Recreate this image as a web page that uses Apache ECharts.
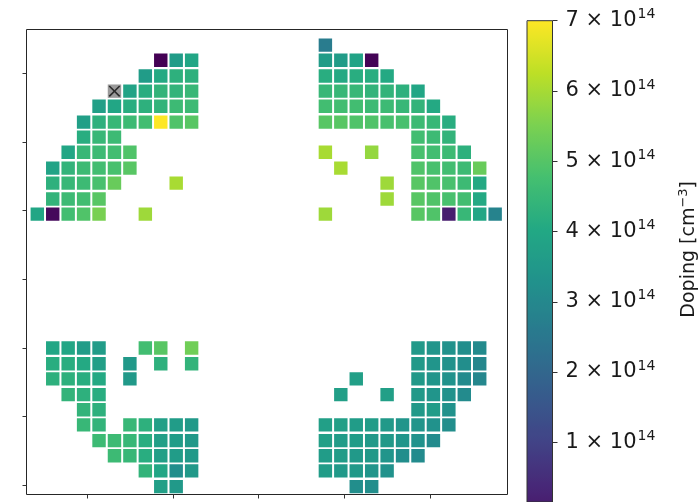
<!DOCTYPE html>
<html>
<head>
<meta charset="utf-8">
<title>Wafer doping map</title>
<script src="https://cdn.jsdelivr.net/npm/echarts@6/dist/echarts.min.js"></script>
<style>
  html, body { margin: 0; padding: 0; background: #fff; }
  #chart { width: 700px; height: 502px; }
</style>
</head>
<body>
<div id="chart"></div>
<script>
const _ = null;

// Die centre positions on the wafer (mm)
const leftColumnsX  = [-25.8, -24.0, -22.2, -20.4, -18.6, -16.8, -15.0, -13.2, -11.4, -9.6, -7.8];
const rightColumnsX = [7.8, 9.6, 11.4, 13.2, 15.0, 16.8, 18.6, 20.4, 22.2, 24.0, 25.8, 27.6];
const upperRowsY = [34.1, 31.9, 29.6, 27.4, 25.2, 22.9, 20.7, 18.5, 16.2, 14.0, 11.7, 9.5];
const lowerRowsY = [-10.0, -12.3, -14.5, -16.8, -19.0, -21.2, -23.5, -25.7, -27.9, -30.2];
const diePitch = [1.8, 2.238];

// Doping per die in units of 1e14 cm^-3 (null: no die)
const upperLeft = [
  [_, _, _, _, _, _, _, _, _, _, _],
  [_, _, _, _, _, _, _, _, 0.15, 3.9, 4.2],
  [_, _, _, _, _, _, _, 3.9, 4.3, 4.5, 4.5],
  [_, _, _, _, _, _, 4.1, 4.4, 4.6, 4.6, 4.7],
  [_, _, _, _, 4.0, 4.2, 4.4, 4.5, 4.6, 4.8, 4.8],
  [_, _, _, 4.0, 4.5, 4.7, 4.8, 4.9, 7.0, 5.1, 5.2],
  [_, _, _, 4.4, 4.7, 4.8, _, _, _, _, _],
  [_, _, 4.2, 4.7, 4.8, 4.9, 5.1, _, _, _, _],
  [_, 4.1, 4.6, 4.8, 4.9, 5.0, 5.2, _, _, _, _],
  [_, 4.5, 4.7, 4.8, 5.0, 5.4, _, _, _, 6.1, _],
  [_, 4.6, 4.8, 4.9, 5.2, _, _, _, _, _, _],
  [4.2, 0.3, 4.9, 5.1, 5.6, _, _, 6.0, _, _, _]
];
const upperRight = [
  [3.0, _, _, _, _, _, _, _, _, _, _, _],
  [3.9, 3.9, 4.1, 0.2, _, _, _, _, _, _, _, _],
  [4.4, 4.3, 4.4, 4.4, 4.3, _, _, _, _, _, _, _],
  [4.7, 4.7, 4.7, 4.6, 4.6, 4.5, 4.2, _, _, _, _, _],
  [4.9, 4.9, 4.9, 4.8, 4.8, 4.7, 4.6, 4.3, _, _, _, _],
  [5.2, 5.2, 5.1, 5.1, 5.0, 5.0, 4.8, 4.7, 4.4, _, _, _],
  [_, _, _, _, _, _, 4.9, 4.8, 4.6, _, _, _],
  [6.1, _, _, 5.9, _, _, 5.0, 4.9, 4.8, 4.5, _, _],
  [_, 6.1, _, _, _, _, 5.1, 5.0, 4.9, 4.8, 5.4, _],
  [_, _, _, _, 6.0, _, 5.2, 5.1, 5.0, 4.8, 4.3, _],
  [_, _, _, _, 6.0, _, 5.2, 5.1, 5.0, 4.9, 4.3, _],
  [6.0, _, _, _, _, _, 5.2, 5.1, 0.7, 4.7, 4.2, 3.2]
];
const lowerLeft = [
  [_, 4.2, 4.2, 3.9, 3.9, _, _, 4.9, 5.2, _, 5.5],
  [_, 4.4, 4.4, 4.3, 4.0, _, 3.8, _, 4.5, _, 4.6],
  [_, 4.5, 4.5, 4.4, 4.3, _, 3.8, _, _, _, _],
  [_, _, 4.6, 4.5, 4.4, _, _, _, _, _, _],
  [_, _, _, 4.6, 4.5, _, _, _, _, _, _],
  [_, _, _, 4.7, 4.6, _, 4.7, 4.5, 4.0, 3.9, 3.8],
  [_, _, _, _, 4.8, 4.8, 4.7, 4.4, 4.0, 3.9, 3.8],
  [_, _, _, _, _, 4.8, 4.7, 4.4, 4.0, 3.9, 3.8],
  [_, _, _, _, _, _, _, 4.6, 4.2, 3.5, 3.8],
  [_, _, _, _, _, _, _, _, 4.0, 3.8, _]
];
const lowerRight = [
  [_, _, _, _, _, _, 3.8, 3.7, 3.6, 3.5, 3.4, _],
  [_, _, _, _, _, _, 3.8, 3.7, 3.6, 3.5, 3.3, _],
  [_, _, 4.0, _, _, _, 3.8, 3.7, 3.6, 3.4, 3.3, _],
  [_, 4.0, _, _, 4.0, _, 3.8, 3.7, 3.6, 3.4, _, _],
  [_, _, _, _, _, _, 3.8, 3.9, 3.6, _, _, _],
  [4.0, 4.0, 3.9, 3.9, 3.8, 3.7, 3.7, 3.6, 3.5, _, _, _],
  [4.0, 3.9, 3.9, 3.8, 3.8, 3.7, 3.6, 3.4, _, _, _, _],
  [3.9, 3.9, 3.8, 3.8, 3.7, 3.5, 3.4, _, _, _, _, _],
  [3.9, 3.8, 3.8, 3.7, 3.6, _, _, _, _, _, _, _],
  [_, _, 3.5, 3.5, _, _, _, _, _, _, _, _]
];

// Dies excluded from the measurement: [column, row] in the upper-left block
const excludedUpperLeft = [[5, 3]];

// Axis ticks and colour scale
const xTicks = [-20, -10, 0, 10, 20];
const yTicks = [-30, -20, -10, 0, 10, 20, 30];
const dopingTicks = [1e14, 2e14, 3e14, 4e14, 5e14, 6e14, 7e14];
const dopingMin = 0.15e14, dopingMax = 7e14;
const viridis = ['#440154', '#482475', '#414487', '#355f8d', '#2a788e', '#21918c',
                 '#22a884', '#44bf70', '#7ad151', '#bddf26', '#fde725'];

function blockCells(matrix, xs, ys) {
  const out = [];
  matrix.forEach((row, r) => row.forEach((v, c) => {
    if (v !== null) out.push([xs[c], ys[r], v * 1e14]);
  }));
  return out;
}

const dies = [].concat(
  blockCells(upperLeft, leftColumnsX, upperRowsY),
  blockCells(upperRight, rightColumnsX, upperRowsY),
  blockCells(lowerLeft, leftColumnsX, lowerRowsY),
  blockCells(lowerRight, rightColumnsX, lowerRowsY)
);
const excluded = excludedUpperLeft.map(([c, r]) => [leftColumnsX[c], upperRowsY[r]]);

function dieRect(api) {
  const p = api.coord([api.value(0), api.value(1)]);
  const s = api.size(diePitch);
  const w = s[0] - 2, h = s[1] - 2;
  return { x: p[0] - w / 2, y: p[1] - h / 2, width: w, height: h };
}

const FONT = 'DejaVu Sans';
const chart = echarts.init(document.getElementById('chart'), null, { renderer: 'canvas' });

chart.setOption({
  backgroundColor: '#fff',
  animation: false,
  grid: [
    { left: 26.5, top: 29.5, width: 481, height: 465, show: true,
      borderColor: '#262626', borderWidth: 1, backgroundColor: '#fff' },
    { left: 527, top: 20.7, width: 26, height: 524.4, show: true,
      borderColor: '#333', borderWidth: 1, backgroundColor: 'transparent', z: 10 }
  ],
  xAxis: [
    { type: 'value', gridIndex: 0, min: -27.06, max: 29.04, position: 'bottom',
      axisLine: { show: false, onZero: false }, splitLine: { show: false },
      axisTick: { show: true, length: 4, customValues: xTicks, lineStyle: { color: '#333' } },
      axisLabel: { show: false } },
    { type: 'value', gridIndex: 1, show: false }
  ],
  yAxis: [
    { type: 'value', gridIndex: 0, min: -31.34, max: 36.38, position: 'left',
      axisLine: { show: false, onZero: false }, splitLine: { show: false },
      axisTick: { show: true, length: 4, customValues: yTicks, lineStyle: { color: '#333' } },
      axisLabel: { show: false } },
    { type: 'value', gridIndex: 1, min: dopingMin, max: dopingMax, position: 'right',
      axisLine: { show: false, onZero: false }, splitLine: { show: false },
      axisTick: { show: true, length: 5, customValues: dopingTicks, lineStyle: { color: '#333' } },
      axisLabel: {
        show: true, customValues: dopingTicks, margin: 13,
        formatter: v => '{b|' + Math.round(v / 1e14) + ' × 10}{s|14}',
        rich: {
          b: { fontFamily: FONT, fontSize: 21, color: '#1a1a1a' },
          s: { fontFamily: FONT, fontSize: 14, color: '#1a1a1a', padding: [0, 0, 12, 1] }
        }
      },
      name: 'Doping [cm{s|−3}]',
      nameLocation: 'middle', nameRotate: 90, nameGap: 125,
      nameTextStyle: {
        fontFamily: FONT, fontSize: 19, color: '#1a1a1a', padding: [0, 0, 0, 24],
        rich: { s: { fontFamily: FONT, fontSize: 13, color: '#1a1a1a', padding: [0, 0, 11, 0] } }
      }
    }
  ],
  visualMap: {
    type: 'continuous', seriesIndex: 0, dimension: 2,
    min: dopingMin, max: dopingMax, calculable: false, text: null,
    orient: 'vertical', left: 527, top: 20.7, itemWidth: 26, itemHeight: 524.4,
    padding: 0, inRange: { color: viridis }, hoverLink: false
  },
  series: [
    {
      type: 'custom', name: 'Doping', xAxisIndex: 0, yAxisIndex: 0,
      data: dies, clip: true,
      renderItem: (params, api) => ({
        type: 'rect', shape: dieRect(api),
        style: { fill: api.visual('color') }
      })
    },
    {
      type: 'custom', name: 'Excluded', xAxisIndex: 0, yAxisIndex: 0,
      data: excluded,
      renderItem: (params, api) => {
        const r = dieRect(api);
        const i = 1.5;
        return {
          type: 'group',
          children: [
            { type: 'rect', shape: r, style: { fill: '#9a9a9a' } },
            { type: 'line', shape: { x1: r.x + i, y1: r.y + i, x2: r.x + r.width - i, y2: r.y + r.height - i },
              style: { stroke: '#2b2b2b', lineWidth: 1.6 } },
            { type: 'line', shape: { x1: r.x + r.width - i, y1: r.y + i, x2: r.x + i, y2: r.y + r.height - i },
              style: { stroke: '#2b2b2b', lineWidth: 1.6 } }
          ]
        };
      }
    }
  ]
});
</script>
</body>
</html>
